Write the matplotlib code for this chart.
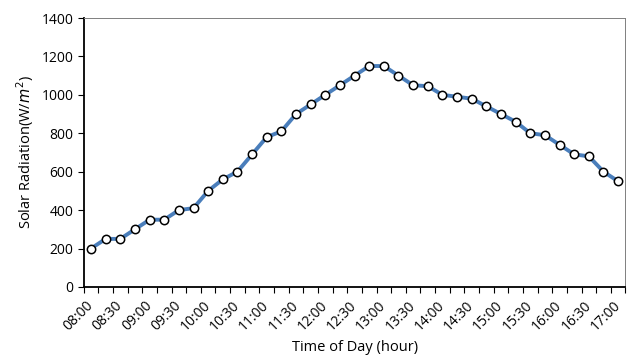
import numpy as np
import matplotlib.pyplot as plt

plt.rcParams['font.family'] = ['Open Sans', 'DejaVu Sans']

# horas cada 15 minutos
times = ['08:00', '08:15', '08:30', '08:45', '09:00', '09:15', '09:30', '09:45',
         '10:00', '10:15', '10:30', '10:45', '11:00', '11:15', '11:30', '11:45',
         '12:00', '12:15', '12:30', '12:45', '13:00', '13:15', '13:30', '13:45',
         '14:00', '14:15', '14:30', '14:45', '15:00', '15:15', '15:30', '15:45',
         '16:00', '16:15', '16:30', '16:45', '17:00']
radiation = [200, 250, 250, 300, 350, 350, 400, 410, 500, 560, 600, 690, 780, 810,
             900, 950, 1000, 1050, 1100, 1150, 1150, 1100, 1050, 1045, 1000, 990,
             980, 940, 900, 860, 800, 790, 740, 690, 680, 600, 550]

fig = plt.figure(figsize=(6.27, 3.6), dpi=100)
ax = fig.add_axes([0.1335, 0.203, 0.864, 0.747])

x = np.arange(len(times))
ax.plot(x, radiation, color='#4a7ebb', lw=2.8, marker='o', markersize=6,
        markerfacecolor='white', markeredgecolor='black', markeredgewidth=1.1, zorder=3)

ax.set_xlim(-0.5, len(times) - 0.5)
ax.set_ylim(0, 1400)
ax.set_yticks(range(0, 1401, 200))

# marcas entre categorias, etiquetas cada 30 min
ax.set_xticks(np.arange(len(times) + 1) - 0.5)
ax.set_xticklabels([])
ax.set_xticks(x[::2], minor=True)
ax.set_xticklabels(times[::2], minor=True, rotation=45, ha='right', va='center',
                   rotation_mode='anchor')
ax.tick_params(axis='x', which='minor', length=0, labelsize=10, pad=12)
ax.tick_params(axis='x', which='major', length=4, direction='out', width=0.8)
ax.tick_params(axis='y', length=4, direction='out', labelsize=10, width=0.8)

for s in ['top', 'right']:
    ax.spines[s].set_color('#7f7f7f')
    ax.spines[s].set_linewidth(0.7)
ax.spines['left'].set_linewidth(1.3)
ax.spines['bottom'].set_linewidth(1.3)

ax.set_xlabel('Time of Day (hour)', fontsize=10.5, labelpad=4)
ax.set_ylabel('Solar Radiation(W/$m^2$)', fontsize=10.5, labelpad=4)

plt.savefig('out.png', dpi=100)
